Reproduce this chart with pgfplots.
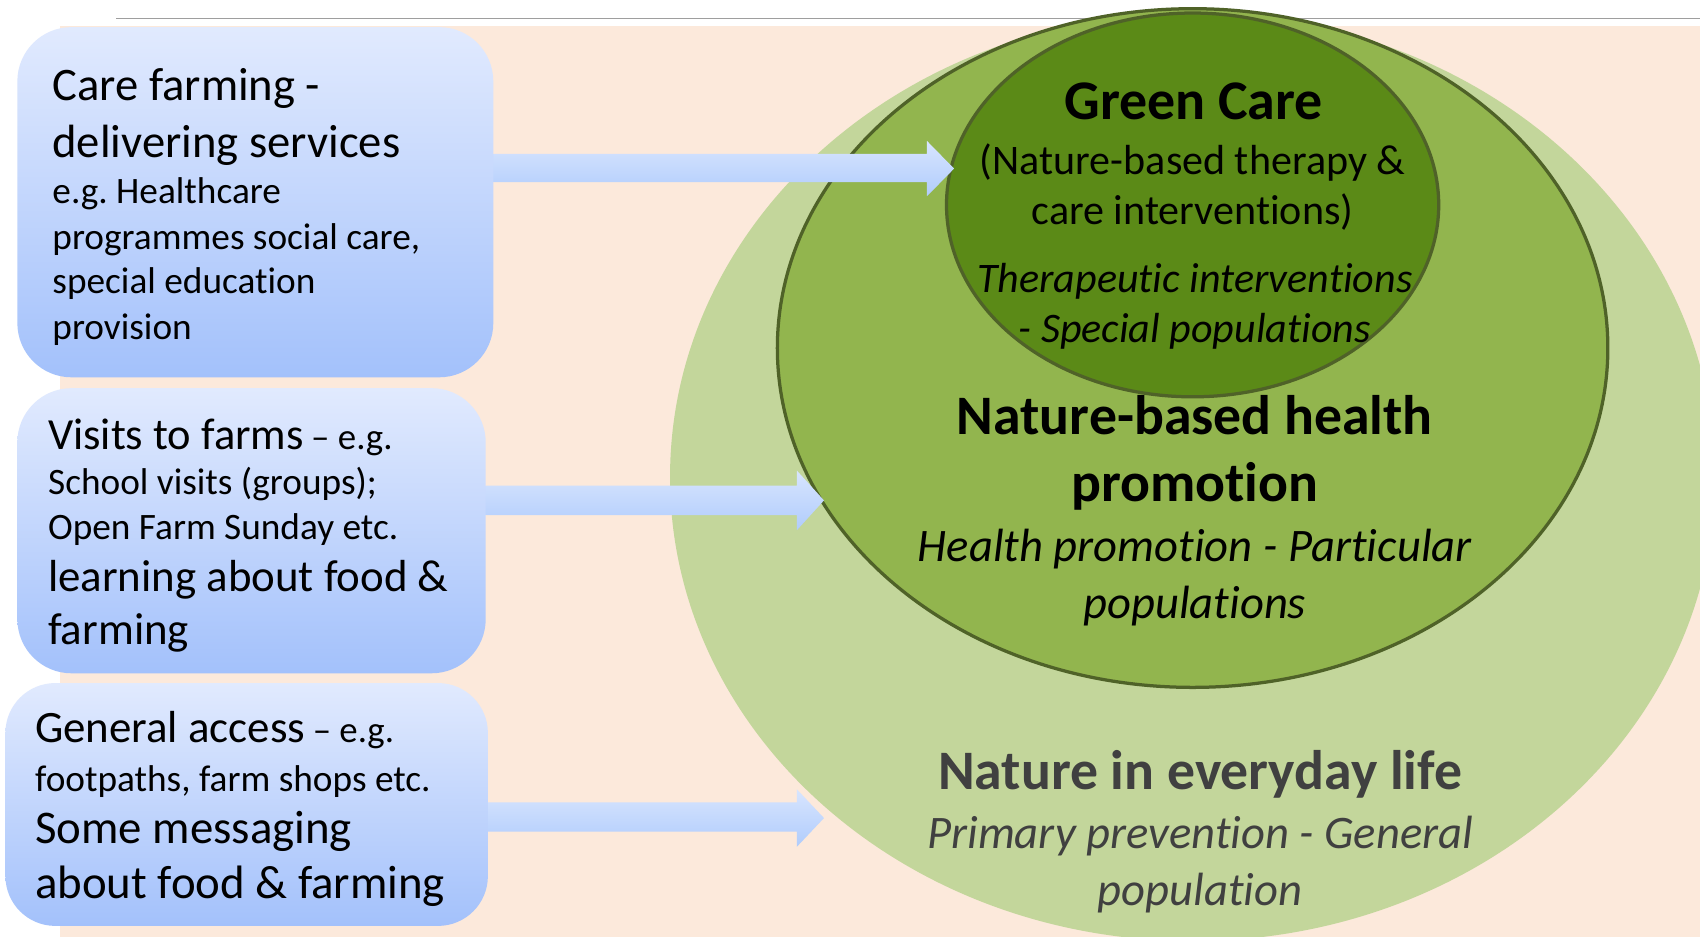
\documentclass[border=0pt]{standalone}
\usepackage{fontspec}
\setmainfont{Carlito}[RawFeature={-liga;-clig;-calt;-dlig}]
\usepackage{pgfplots}
\pgfplotsset{compat=1.18}
\definecolor{peach}{RGB}{252,233,219}
\definecolor{lightgreen}{RGB}{195,214,155}
\definecolor{midgreen}{RGB}{146,181,78}
\definecolor{darkgreen}{RGB}{91,138,23}
\definecolor{edgegreen}{RGB}{79,98,40}
\definecolor{boxtop}{RGB}{225,234,254}
\definecolor{boxbot}{RGB}{163,193,251}
\definecolor{arrtop}{RGB}{216,229,254}
\definecolor{arrbot}{RGB}{176,204,252}
\definecolor{txtgray}{RGB}{64,64,64}
\newcommand{\fs}[1]{\fontsize{#1}{#1}\selectfont}
\frenchspacing
\begin{document}
\begin{tikzpicture}
\begin{axis}[x=0.5pt,y=0.5pt,xmin=0,xmax=1568,ymin=0,ymax=864,y dir=reverse,
  axis lines=none,clip=true]
% background
\addplot[draw=none, fill=white] coordinates {(0,0) (1568,0) (1568,864) (0,864)} -- cycle;
\addplot[draw=none, fill=peach] coordinates {(55,24) (1568,24) (1568,864) (55,864)} -- cycle;
\addplot[color=black!38, line width=0.8pt] coordinates {(107,17) (1568,17)};
% ellipses
\fill[lightgreen] (axis cs:1100,440) ellipse [x radius=482, y radius=428];
\filldraw[fill=midgreen, draw=edgegreen, line width=1.5pt] (axis cs:1100,321) ellipse [x radius=383, y radius=313];
\filldraw[fill=darkgreen, draw=edgegreen, line width=1.5pt] (axis cs:1100,189) ellipse [x radius=227, y radius=177];
% arrows
\addplot[draw=none, top color=arrtop, bottom color=arrbot] coordinates
  {(455,142) (855,142) (855,130) (880,155.5) (855,181) (855,168) (455,168)} -- cycle;
\addplot[draw=none, top color=arrtop, bottom color=arrbot] coordinates
  {(448,448) (735,448) (735,434) (760,461.5) (735,489) (735,475) (448,475)} -- cycle;
\addplot[draw=none, top color=arrtop, bottom color=arrbot] coordinates
  {(450,740) (735,740) (735,728) (760,754.5) (735,781) (735,767) (450,767)} -- cycle;
% boxes
\shade[top color=boxtop, bottom color=boxbot, rounded corners=25pt] (axis cs:16,25) rectangle (axis cs:455,348);
\shade[top color=boxtop, bottom color=boxbot, rounded corners=25pt] (axis cs:16,358) rectangle (axis cs:448,621);
\shade[top color=boxtop, bottom color=boxbot, rounded corners=23pt] (axis cs:5,630) rectangle (axis cs:450,854);
% box 1 text
\node[anchor=base west, font=\fs{21.5}, inner sep=0pt] at (axis cs:48,93) {Care farming -};
\node[anchor=base west, font=\fs{21.5}, inner sep=0pt] at (axis cs:48,145) {delivering services};
\node[anchor=base west, font=\fs{17.2}, inner sep=0pt] at (axis cs:48,188) {e.g. Healthcare};
\node[anchor=base west, font=\fs{17.2}, inner sep=0pt] at (axis cs:48,230) {programmes social care,};
\node[anchor=base west, font=\fs{17.2}, inner sep=0pt] at (axis cs:48,271) {special education};
\node[anchor=base west, font=\fs{17.2}, inner sep=0pt] at (axis cs:48,313) {provision};
% box 2 text
\node[anchor=base west, inner sep=0pt] at (axis cs:44,415) {\fs{20.5}Visits to farms\,\fs{17}– e.g.};
\node[anchor=base west, font=\fs{17.2}, inner sep=0pt] at (axis cs:44,456) {School visits (groups);};
\node[anchor=base west, font=\fs{17.2}, inner sep=0pt] at (axis cs:44,498) {Open Farm Sunday etc.};
\node[anchor=base west, font=\fs{20.7}, inner sep=0pt] at (axis cs:44,546) {learning about food \&};
\node[anchor=base west, font=\fs{20.7}, inner sep=0pt] at (axis cs:44,594) {farming};
% box 3 text
\node[anchor=base west, inner sep=0pt] at (axis cs:32,685) {\fs{20.7}General access\,\fs{17}– e.g.};
\node[anchor=base west, font=\fs{17.2}, inner sep=0pt] at (axis cs:32,730) {footpaths, farm shops etc.};
\node[anchor=base west, font=\fs{21.6}, inner sep=0pt] at (axis cs:32,778) {Some messaging};
\node[anchor=base west, font=\fs{21.6}, inner sep=0pt] at (axis cs:32,829) {about food \& farming};
% ellipse texts
\node[anchor=base, font=\fs{25.8}\bfseries, inner sep=0pt] at (axis cs:1101,110) {Green Care};
\node[anchor=base, font=\fs{19.4}, inner sep=0pt] at (axis cs:1100,161) {(Nature-based therapy \&};
\node[anchor=base, font=\fs{19.4}, inner sep=0pt] at (axis cs:1100,207) {care interventions)};
\node[anchor=base, font=\fs{19.4}\itshape, inner sep=0pt] at (axis cs:1102,270) {Therapeutic interventions};
\node[anchor=base, font=\fs{19.4}\itshape, inner sep=0pt] at (axis cs:1102,316) {- Special populations};
\node[anchor=base, font=\fs{25.7}\bfseries, inner sep=0pt] at (axis cs:1102,401) {Nature-based health};
\node[anchor=base, font=\fs{25.7}\bfseries, inner sep=0pt] at (axis cs:1102,463) {promotion};
\node[anchor=base, font=\fs{21.5}\itshape, inner sep=0pt] at (axis cs:1102,518) {Health promotion - Particular};
\node[anchor=base, font=\fs{21.5}\itshape, inner sep=0pt] at (axis cs:1102,570) {populations};
\node[anchor=base, font=\fs{25.7}\bfseries, text=txtgray, inner sep=0pt] at (axis cs:1107,728) {Nature in everyday life};
\node[anchor=base, font=\fs{21.5}\itshape, text=txtgray, inner sep=0pt] at (axis cs:1107,783) {Primary prevention - General};
\node[anchor=base, font=\fs{21.5}\itshape, text=txtgray, inner sep=0pt] at (axis cs:1107,835) {population};
\end{axis}
\pgfresetboundingbox
\useasboundingbox (current axis.south west) rectangle (current axis.north east);
\end{tikzpicture}
\end{document}
